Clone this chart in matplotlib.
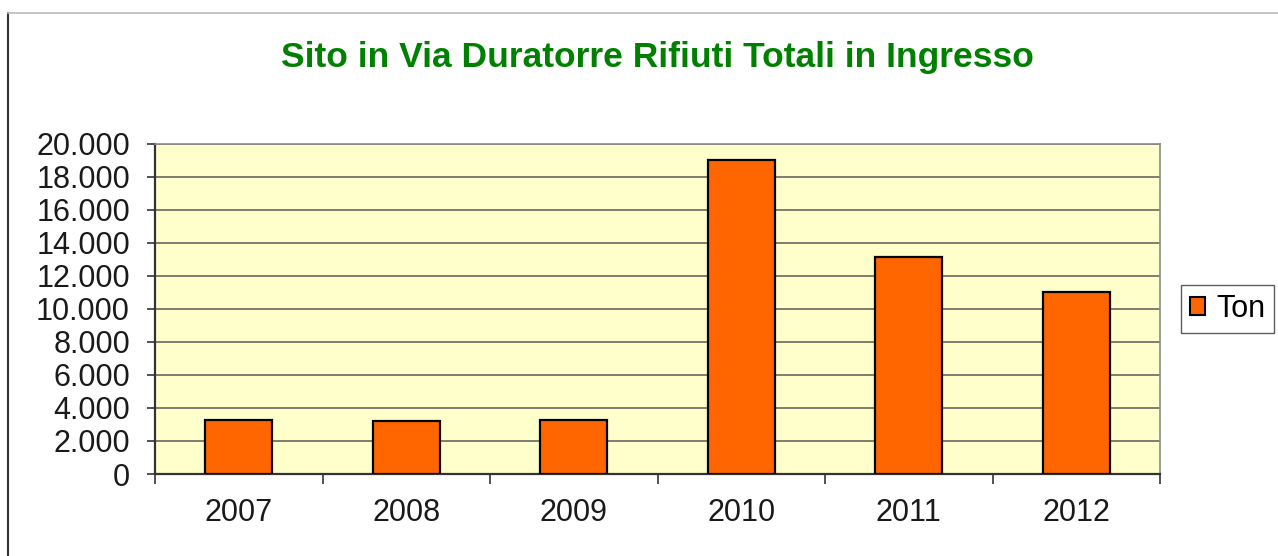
import matplotlib
matplotlib.use("Agg")
import matplotlib.pyplot as plt
from matplotlib.lines import Line2D
from matplotlib.patches import Patch

# valori
anni = ["2007", "2008", "2009", "2010", "2011", "2012"]
ton = [3270, 3210, 3270, 18980, 13110, 10990]
yticks = [0, 2000, 4000, 6000, 8000, 10000, 12000, 14000, 16000, 18000, 20000]
ylabels = ["0", "2.000", "4.000", "6.000", "8.000", "10.000", "12.000",
           "14.000", "16.000", "18.000", "20.000"]

plt.rcParams["font.family"] = ["Liberation Sans", "DejaVu Sans"]

W, H = 1278, 556
fig = plt.figure(figsize=(W / 100, H / 100), dpi=100)
fig.patch.set_facecolor("white")

ax = fig.add_axes([155 / W, (H - 474) / H, 1005 / W, (474 - 143.5) / H])
ax.set_facecolor("#FFFFCC")

x = list(range(len(anni)))
ax.bar(x, ton, width=0.4, color="#FF6600", edgecolor="black", linewidth=1.6, zorder=3)

ax.set_xlim(-0.5, len(anni) - 0.5)
ax.set_ylim(0, 20000)
ax.set_yticks(yticks)
ax.set_yticklabels(ylabels)
ax.set_xticks(x)
ax.set_xticklabels(anni)
ax.set_xticks([i + 0.5 for i in range(-1, len(anni))], minor=True)

ax.grid(axis="y", color="#5a5a5a", linewidth=1.1, zorder=1)
ax.tick_params(axis="y", labelsize=22, length=6, width=1.2, pad=12, colors="#333333", labelcolor="#1a1a1a")
ax.tick_params(axis="x", which="major", labelsize=22, length=0, pad=17, labelcolor="#1a1a1a")
ax.tick_params(axis="x", which="minor", length=7, width=1.2, color="#333333")

ax.spines["left"].set_color("#333333")
ax.spines["left"].set_linewidth(1.6)
ax.spines["bottom"].set_color("#333333")
ax.spines["bottom"].set_linewidth(1.6)
ax.spines["top"].set_color("#8a8a8a")
ax.spines["top"].set_linewidth(1.2)
ax.spines["right"].set_color("#8a8a8a")
ax.spines["right"].set_linewidth(1.2)

fig.text(657 / W, 1 - 58 / H, "Sito in Via Duratorre Rifiuti Totali in Ingresso",
         ha="center", va="center", fontsize=25.5, fontweight="bold", color="#008000")

handle = Patch(facecolor="#FF6600", edgecolor="black", linewidth=1.5)
leg = fig.legend([handle], ["Ton"], loc="center left",
                 bbox_to_anchor=(1181 / W, 1 - 309 / H), fontsize=22,
                 handlelength=0.5, handleheight=0.5, handletextpad=0.35,
                 borderpad=0.3, borderaxespad=0, fancybox=False, frameon=True)
leg.get_frame().set_edgecolor("#333333")
leg.get_frame().set_linewidth(1.0)

# cornice esterna del grafico
fig.add_artist(Line2D([8 / W, 8 / W], [0, 1 - 12.5 / H], color="#333333", linewidth=1.5))
fig.add_artist(Line2D([8 / W, 1], [1 - 12.5 / H, 1 - 12.5 / H], color="#bbbbbb", linewidth=1.2))

fig.savefig("out.png", dpi=100)
plt.close(fig)
